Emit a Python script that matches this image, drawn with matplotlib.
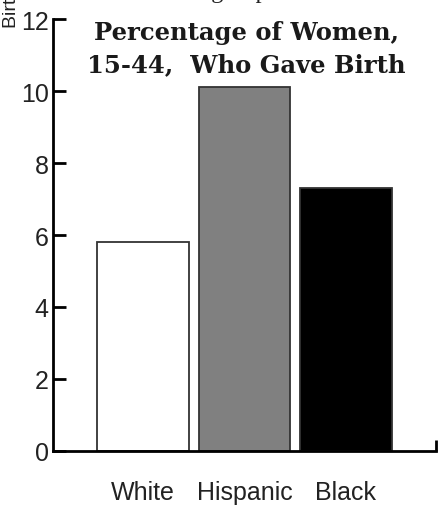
import matplotlib
matplotlib.use("Agg")
import matplotlib.pyplot as plt
from matplotlib.ticker import FixedLocator

categories = ["White", "Hispanic", "Black"]
values = [5.8, 10.1, 7.3]
colors = ["#ffffff", "#808080", "#000000"]
yticks = [0, 2, 4, 6, 8, 10, 12]

fig = plt.figure(figsize=(4.46, 5.06), dpi=100)
ax = fig.add_axes([53/446, 1 - 452/506, (436-53)/446, (452-20)/506])

x = list(range(len(categories)))
ax.bar(x, values, width=0.906, color=colors, edgecolor="#333333", linewidth=1.3, zorder=2)

xmin, xmax = -0.887, 2.887
ax.set_xlim(xmin, xmax)
ax.set_ylim(0, 12)

for s in ["top", "right"]:
    ax.spines[s].set_visible(False)
for s in ["left", "bottom"]:
    ax.spines[s].set_linewidth(2)
    ax.spines[s].set_color("black")

ax.set_yticks(yticks)
ax.set_yticklabels([str(v) for v in yticks], fontfamily="Liberation Sans", fontsize=18, color="#222222")
ax.tick_params(axis="y", direction="in", length=9, width=2, pad=3)

ax.set_xticks(x)
ax.set_xticklabels(categories, fontfamily="Liberation Sans", fontsize=18, color="#222222")
ax.tick_params(axis="x", which="major", length=0, pad=21)
ax.xaxis.set_minor_locator(FixedLocator([xmax]))
ax.tick_params(axis="x", which="minor", direction="in", length=8, width=2)

ax.text(0.505, 0.997, "Percentage of Women,\n15-44,  Who Gave Birth", transform=ax.transAxes,
        ha="center", va="top", fontfamily="DejaVu Serif", fontweight="heavy", fontsize=17.5,
        linespacing=1.4, color="#1a1a1a")

fig.text(0.006, 1 - 28/506, "Birth rate", rotation=90, ha="left", va="bottom",
         fontfamily="Liberation Sans", fontsize=14, color="#222222")
fig.text(268/446, 1 + 2/506, "Birth rates of each group", ha="right", va="baseline",
         fontfamily="Liberation Serif", fontsize=17.5, color="#222222")

fig.savefig("out.png", dpi=100)
